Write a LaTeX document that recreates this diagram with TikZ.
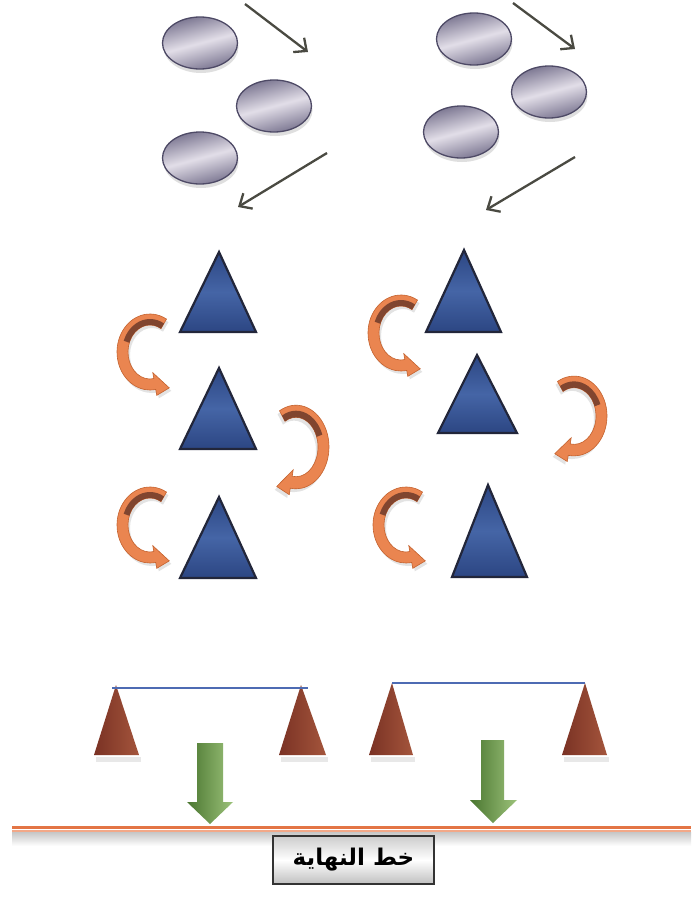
\documentclass[tikz,border=0pt]{standalone}
\usepackage{fontspec}
\newfontfamily\arabicfont[Script=Arabic,BoldFont={DejaVu Sans Bold}]{DejaVu Sans}
\TeXXeTstate=1
\usetikzlibrary{shapes.geometric,arrows.meta,calc,shadows}
\definecolor{discfill}{HTML}{7A7590}
\definecolor{discmid}{HTML}{E2DEE8}
\definecolor{discedge}{HTML}{4E4A66}
\definecolor{arrowgray}{HTML}{4A4A42}
\definecolor{tridark}{HTML}{22263A}
\definecolor{triblue}{HTML}{2C4683}
\definecolor{trilight}{HTML}{4565A6}
\definecolor{curlorange}{HTML}{EA8550}
\definecolor{curledge}{HTML}{C4622E}
\definecolor{curldark}{HTML}{6E3A2A}
\definecolor{brickA}{HTML}{7A3224}
\definecolor{brickB}{HTML}{A4553C}
\definecolor{barblue}{HTML}{4D6BB3}
\definecolor{greenA}{HTML}{4A7630}
\definecolor{greenB}{HTML}{9CC27A}
\definecolor{lineorange}{HTML}{E37545}
\definecolor{linelight}{HTML}{F2A888}
\tikzset{
  disc/.style={ellipse, minimum width=75pt, minimum height=52pt, inner sep=0pt,
    draw=discedge, line width=1.3pt,
    top color=discfill, bottom color=discfill, middle color=discmid, shading angle=15,
    drop shadow={shadow xshift=1pt, shadow yshift=-4pt, opacity=0.25, fill=gray}},
  straw/.style={draw=arrowgray, line width=2.3pt, -{Straight Barb[length=10pt,width=18pt,line width=2.3pt]}},
  bluetri/.style={draw=tridark, line width=2.2pt, line join=miter,
    top color=triblue, bottom color=triblue, middle color=trilight},
  bricktri/.style={left color=brickA, right color=brickB, draw=none},
  bar/.style={draw=barblue, line width=2.8pt},
  greenarrow/.style={left color=greenA, right color=greenB, draw=none},
  carrow/.pic={
    \fill[gray, opacity=0.22] ($(60:33 and 38)+(2,-3)$) arc[start angle=60,end angle=280,x radius=33,y radius=38]
      -- ($(280:39 and 44)+(2,-3)$) -- ($(280:27.5 and 32.5)+(345:15)+(2,-3)$) -- ($(280:16 and 21)+(2,-3)$)
      -- ($(280:22 and 27)+(2,-3)$) arc[start angle=280,end angle=60,x radius=22,y radius=27] -- cycle;
    \path[fill=curlorange, draw=curledge, line width=0.6pt]
      (60:33 and 38) arc[start angle=60,end angle=280,x radius=33,y radius=38]
      -- (280:39 and 44) -- ($(280:27.5 and 32.5)+(345:15)$) -- (280:16 and 21) -- (280:22 and 27)
      arc[start angle=280,end angle=60,x radius=22,y radius=27] -- cycle;
    \fill[curldark, opacity=0.85] (60:28 and 33) arc[start angle=60,end angle=160,x radius=28,y radius=33]
      -- (160:22 and 27) arc[start angle=160,end angle=60,x radius=22,y radius=27] -- cycle;
  }
}
\begin{document}
\begin{tikzpicture}[x=1pt,y=1pt]
\useasboundingbox (0,0) rectangle (691,-897);
\fill[white] (0,0) rectangle (691,-897);

% discs
\node[disc] (dl1) at (200,-43) {};
\node[disc] (dl2) at (274,-106) {};
\node[disc] (dl3) at (200,-158) {};
\node[disc] (dr1) at (474,-39) {};
\node[disc] (dr2) at (549,-92) {};
\node[disc] (dr3) at (461,-132) {};

% straight arrows
\coordinate (la1s) at (245,-4);   \coordinate (la1e) at (308,-52);
\coordinate (la2s) at (327,-153); \coordinate (la2e) at (238,-207);
\coordinate (ra1s) at (513,-3);   \coordinate (ra1e) at (575,-49);
\coordinate (ra2s) at (575,-157); \coordinate (ra2e) at (486,-210);
\draw[straw] (la1s) -- (la1e);
\draw[straw] (la2s) -- (la2e);
\draw[straw] (ra1s) -- (ra1e);
\draw[straw] (ra2s) -- (ra2e);

% blue triangles
\path[bluetri] (219,-252) -- (256,-332) -- (180,-332) -- cycle;
\path[bluetri] (219,-368) -- (256,-449) -- (180,-449) -- cycle;
\path[bluetri] (219,-497) -- (256,-578) -- (180,-578) -- cycle;
\path[bluetri] (464,-250) -- (501,-332) -- (426,-332) -- cycle;
\path[bluetri] (477,-355) -- (517,-433) -- (438,-433) -- cycle;
\path[bluetri] (488,-485) -- (527,-577) -- (452,-577) -- cycle;

% curved arrows
\path (150,-352) pic {carrow};
\path (296,-447) pic[xscale=-1, yscale=1.1] {carrow};
\path (150,-525) pic {carrow};
\path (401,-333) pic {carrow};
\path (574,-416) pic[xscale=-1, yscale=1.05] {carrow};
\path (406,-525) pic {carrow};

% brick triangles and bars
\fill[gray, opacity=0.18] (96,-757) rectangle (141,-762);
\fill[gray, opacity=0.18] (281,-757) rectangle (328,-762);
\fill[gray, opacity=0.18] (371,-757) rectangle (415,-762);
\fill[gray, opacity=0.18] (564,-757) rectangle (609,-762);
\path[bricktri] (116,-685) -- (139,-755) -- (94,-755) -- cycle;
\path[bricktri] (301,-685) -- (326,-755) -- (279,-755) -- cycle;
\path[bricktri] (392,-683) -- (413,-755) -- (369,-755) -- cycle;
\path[bricktri] (585,-683) -- (607,-755) -- (562,-755) -- cycle;
\draw[bar] (112,-688) -- (308,-688);
\draw[bar] (392,-683) -- (585,-683);

% green arrows
\path[greenarrow] (197,-743) -- (223,-743) -- (223,-802) -- (233,-802) -- (210,-824)
   -- (187,-802) -- (197,-802) -- cycle;
\path[greenarrow] (481,-740) -- (504,-740) -- (504,-800) -- (517,-800) -- (493,-823)
   -- (470,-800) -- (481,-800) -- cycle;

% finish line
\shade[top color=gray!45, bottom color=white] (12,-832) rectangle (691,-846);
\draw[lineorange, line width=3.5pt] (12,-827.5) -- (691,-827.5);
\draw[linelight, line width=2pt] (12,-831) -- (691,-831);

\node[draw=black!80, line width=1.6pt, top color=gray!40, bottom color=gray!50, middle color=white,
      minimum width=161pt, minimum height=48pt, inner sep=0pt] (finish) at (353.5,-860)
  {\arabicfont\bfseries\fontsize{23}{26}\selectfont\beginR خط النهاية\endR};
\end{tikzpicture}
\end{document}
